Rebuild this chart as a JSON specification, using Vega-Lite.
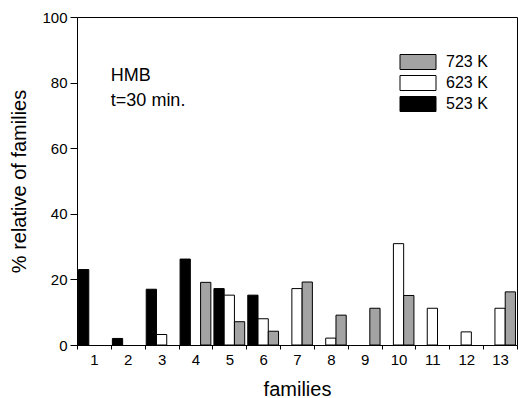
{
  "$schema": "https://vega.github.io/schema/vega-lite/v6.json",
  "width": 440,
  "height": 328,
  "autosize": {"type": "none"},
  "padding": {"left": 77, "top": 17, "right": 1, "bottom": 53},
  "background": "white",
  "data": {
    "values": [
      {"family": 1, "temp": "523 K", "value": 23},
      {"family": 2, "temp": "523 K", "value": 2},
      {"family": 3, "temp": "523 K", "value": 17},
      {"family": 3, "temp": "623 K", "value": 3.2},
      {"family": 4, "temp": "523 K", "value": 26.2},
      {"family": 4, "temp": "723 K", "value": 19.1},
      {"family": 5, "temp": "523 K", "value": 17.2},
      {"family": 5, "temp": "623 K", "value": 15.2},
      {"family": 5, "temp": "723 K", "value": 7.1},
      {"family": 6, "temp": "523 K", "value": 15.2},
      {"family": 6, "temp": "623 K", "value": 8},
      {"family": 6, "temp": "723 K", "value": 4.2},
      {"family": 7, "temp": "623 K", "value": 17.2},
      {"family": 7, "temp": "723 K", "value": 19.2},
      {"family": 8, "temp": "623 K", "value": 2.1},
      {"family": 8, "temp": "723 K", "value": 9.1},
      {"family": 9, "temp": "723 K", "value": 11.2},
      {"family": 10, "temp": "623 K", "value": 30.9},
      {"family": 10, "temp": "723 K", "value": 15.1},
      {"family": 11, "temp": "623 K", "value": 11.2},
      {"family": 12, "temp": "623 K", "value": 4},
      {"family": 13, "temp": "623 K", "value": 11.2},
      {"family": 13, "temp": "723 K", "value": 16.2}
    ]
  },
  "layer": [
    {
      "mark": {"type": "bar", "stroke": "black", "strokeWidth": 1},
      "encoding": {
        "x": {
          "field": "family",
          "type": "ordinal",
          "scale": {"paddingInner": 0, "paddingOuter": 0},
          "axis": {
            "title": "families",
            "labelAngle": 0,
            "labelFontSize": 15,
            "labelPadding": 3,
            "tickBand": "extent",
            "tickSize": 4,
            "titleFontSize": 20,
            "titlePadding": 12
          }
        },
        "xOffset": {
          "field": "temp",
          "type": "nominal",
          "scale": {"domain": ["523 K", "623 K", "723 K"], "paddingOuter": 0.15, "paddingInner": 0}
        },
        "y": {
          "field": "value",
          "type": "quantitative",
          "scale": {"domain": [0, 100], "nice": false},
          "axis": {
            "title": "% relative of families",
            "values": [0, 5, 10, 15, 20, 25, 30, 35, 40, 45, 50, 55, 60, 65, 70, 75, 80, 85, 90, 95, 100],
            "labelExpr": "datum.value % 20 === 0 ? datum.label : ''",
            "labelFontSize": 15,
            "tickSize": {"condition": {"test": "datum.value % 20 === 0", "value": 7}, "value": 4},
            "labelPadding": 3,
            "titleFontSize": 20,
            "titlePadding": 12,
            "orient": "left"
          }
        },
        "color": {
          "field": "temp",
          "type": "nominal",
          "scale": {"domain": ["723 K", "623 K", "523 K"], "range": ["#a3a3a3", "#ffffff", "#000000"]},
          "legend": {
            "title": null,
            "orient": "none",
            "legendX": 333,
            "legendY": 37,
            "symbolType": "M-2.4,-1H2.4V1H-2.4Z",
            "symbolSize": 225,
            "symbolStrokeColor": "black",
            "symbolStrokeWidth": 1,
            "symbolOpacity": 1,
            "labelFontSize": 16,
            "labelOffset": 20,
            "rowPadding": 1,
            "padding": 0
          }
        }
      }
    },
    {
      "data": {"values": [{}]},
      "mark": {"type": "text", "text": ["HMB", "t=30 min."], "align": "left", "baseline": "alphabetic", "fontSize": 18, "lineHeight": 25, "color": "black"},
      "encoding": {
        "x": {"datum": 2, "type": "ordinal", "bandPosition": 0},
        "y": {"datum": 80.5, "type": "quantitative"}
      }
    }
  ],
  "config": {
    "font": "Liberation Sans",
    "view": {"stroke": "black", "strokeWidth": 1},
    "axis": {
      "domainColor": "black",
      "tickColor": "black",
      "labelColor": "black",
      "titleColor": "black",
      "grid": false,
      "labelFont": "Liberation Sans",
      "titleFont": "Liberation Sans",
      "titleFontWeight": "normal"
    },
    "legend": {"labelFont": "Liberation Sans", "labelColor": "black"}
  }
}
